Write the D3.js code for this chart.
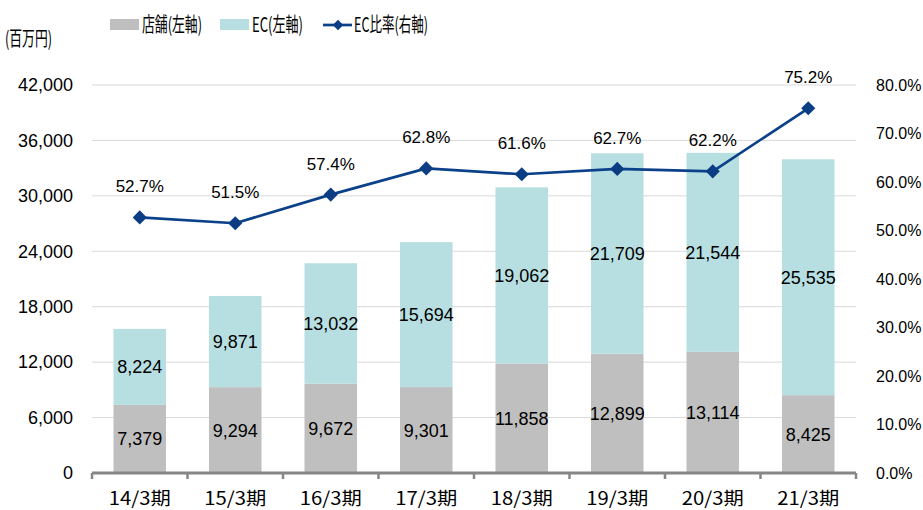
<!DOCTYPE html>
<html>
<head>
<meta charset="utf-8">
<script src="https://cdn.jsdelivr.net/npm/d3@7"></script>
<style>
  body { margin: 0; background: #fff; }
  text { font-family: "Liberation Sans", Arial, sans-serif; fill: #000; }
  .jp { font-family: "Noto Sans CJK JP", sans-serif; }
</style>
</head>
<body>
<svg id="chart"></svg>
<script>
// data
const periods = ["14/3期", "15/3期", "16/3期", "17/3期", "18/3期", "19/3期", "20/3期", "21/3期"];
const storeSales = [7379, 9294, 9672, 9301, 11858, 12899, 13114, 8425];
const ecSales = [8224, 9871, 13032, 15694, 19062, 21709, 21544, 25535];
const ecRatio = [52.7, 51.5, 57.4, 62.8, 61.6, 62.7, 62.2, 75.2];
const leftTicks = [0, 6000, 12000, 18000, 24000, 30000, 36000, 42000];
const rightTicks = [0, 10, 20, 30, 40, 50, 60, 70, 80];

const width = 923, height = 510;
const margin = { top: 85, right: 67, bottom: 37, left: 92 };

const svg = d3.select("#chart").attr("width", width).attr("height", height);

const x = d3.scaleBand()
  .domain(periods)
  .range([margin.left, width - margin.right])
  .paddingInner(0.45)
  .paddingOuter(0.225);

const yL = d3.scaleLinear().domain([0, 42000]).range([height - margin.bottom, margin.top]);
const yR = d3.scaleLinear().domain([0, 80]).range([height - margin.bottom, margin.top]);

// gridlines
svg.append("g")
  .selectAll("line")
  .data(leftTicks.slice(1))
  .join("line")
  .attr("x1", margin.left)
  .attr("x2", width - margin.right)
  .attr("y1", d => yL(d))
  .attr("y2", d => yL(d))
  .attr("stroke", "#d9d9d9")
  .attr("stroke-width", 1);

// left axis labels
const axisL = d3.axisLeft(yL).tickValues(leftTicks).tickFormat(d3.format(",")).tickSize(0).tickPadding(19);
const gL = svg.append("g").attr("transform", `translate(${margin.left},0)`).call(axisL);
gL.select(".domain").remove();
gL.selectAll("text").attr("font-size", 18).attr("font-family", null);
gL.attr("font-family", null);

// right axis labels
const axisR = d3.axisRight(yR).tickValues(rightTicks).tickFormat(d => d.toFixed(1) + "%").tickSize(0).tickPadding(20);
const gR = svg.append("g").attr("transform", `translate(${width - margin.right},0)`).call(axisR);
gR.select(".domain").remove();
gR.attr("font-family", null);
gR.selectAll("text").attr("font-size", 16);

// stacked bars
const stackData = periods.map((p, i) => ({ period: p, store: storeSales[i], ec: ecSales[i] }));
const series = d3.stack().keys(["store", "ec"])(stackData);
const colors = { store: "#bfbfbf", ec: "#b7dfe2" };

svg.append("g")
  .selectAll("g")
  .data(series)
  .join("g")
  .attr("fill", d => colors[d.key])
  .selectAll("rect")
  .data(d => d)
  .join("rect")
  .attr("x", d => x(d.data.period))
  .attr("width", x.bandwidth())
  .attr("y", d => yL(d[1]))
  .attr("height", d => yL(d[0]) - yL(d[1]));

// bar labels
const labels = svg.append("g");
series.forEach(s => {
  labels.selectAll(null)
    .data(s)
    .join("text")
    .attr("x", d => x(d.data.period) + x.bandwidth() / 2)
    .attr("y", d => (yL(d[0]) + yL(d[1])) / 2)
    .attr("dy", "0.36em")
    .attr("text-anchor", "middle")
    .attr("font-size", 18)
    .text(d => d3.format(",")(d[1] - d[0]));
});

// x axis baseline with tick marks between categories
const baseY = yL(0);
const stepW = (width - margin.right - margin.left) / periods.length;
svg.append("line")
  .attr("x1", margin.left).attr("x2", width - margin.right)
  .attr("y1", baseY).attr("y2", baseY)
  .attr("stroke", "#868686").attr("stroke-width", 3);
svg.append("g")
  .selectAll("line")
  .data(d3.range(periods.length + 1))
  .join("line")
  .attr("x1", i => margin.left + i * stepW)
  .attr("x2", i => margin.left + i * stepW)
  .attr("y1", baseY)
  .attr("y2", baseY + 6)
  .attr("stroke", "#868686").attr("stroke-width", 2.5);

// x labels
svg.append("g")
  .selectAll("text")
  .data(periods)
  .join("text")
  .attr("class", "jp")
  .attr("x", d => x(d) + x.bandwidth() / 2)
  .attr("y", baseY + 32)
  .attr("text-anchor", "middle")
  .attr("font-size", 18)
  .attr("textLength", 62)
  .attr("lengthAdjust", "spacingAndGlyphs")
  .text(d => d);

// EC ratio line
const cx = i => x(periods[i]) + x.bandwidth() / 2;
const line = d3.line().x((d, i) => cx(i)).y(d => yR(d));
svg.append("path")
  .datum(ecRatio)
  .attr("d", line)
  .attr("fill", "none")
  .attr("stroke", "#0b4188")
  .attr("stroke-width", 2.7);

svg.append("g")
  .selectAll("path")
  .data(ecRatio)
  .join("path")
  .attr("d", d3.symbol(d3.symbolSquare, 100))
  .attr("transform", (d, i) => `translate(${cx(i)},${yR(d)}) rotate(45)`)
  .attr("fill", "#0b3d84");

svg.append("g")
  .selectAll("text")
  .data(ecRatio)
  .join("text")
  .attr("x", (d, i) => cx(i))
  .attr("y", d => yR(d) - 25)
  .attr("text-anchor", "middle")
  .attr("font-size", 17)
  .text(d => d.toFixed(1) + "%");

// unit label
svg.append("text")
  .attr("class", "jp")
  .attr("x", 5).attr("y", 46)
  .attr("font-size", 20)
  .attr("textLength", 47)
  .attr("lengthAdjust", "spacingAndGlyphs")
  .text("(百万円)");

// legend
const legend = svg.append("g");
legend.append("rect").attr("x", 110).attr("y", 19).attr("width", 29).attr("height", 11).attr("fill", colors.store);
legend.append("text").attr("class", "jp").attr("x", 142).attr("y", 32).attr("font-size", 20)
  .attr("textLength", 60).attr("lengthAdjust", "spacingAndGlyphs").text("店舗(左軸)");
legend.append("rect").attr("x", 220).attr("y", 19).attr("width", 29).attr("height", 11).attr("fill", colors.ec);
legend.append("text").attr("class", "jp").attr("x", 252).attr("y", 32).attr("font-size", 20)
  .attr("textLength", 51).attr("lengthAdjust", "spacingAndGlyphs").text("EC(左軸)");
legend.append("line").attr("x1", 323).attr("x2", 352).attr("y1", 25).attr("y2", 25)
  .attr("stroke", "#0b4188").attr("stroke-width", 2.7);
legend.append("path").attr("d", d3.symbol(d3.symbolSquare, 55))
  .attr("transform", "translate(338,25) rotate(45)").attr("fill", "#0b3d84");
legend.append("text").attr("class", "jp").attr("x", 354).attr("y", 32).attr("font-size", 20)
  .attr("textLength", 74).attr("lengthAdjust", "spacingAndGlyphs").text("EC比率(右軸)");
</script>
</body>
</html>
